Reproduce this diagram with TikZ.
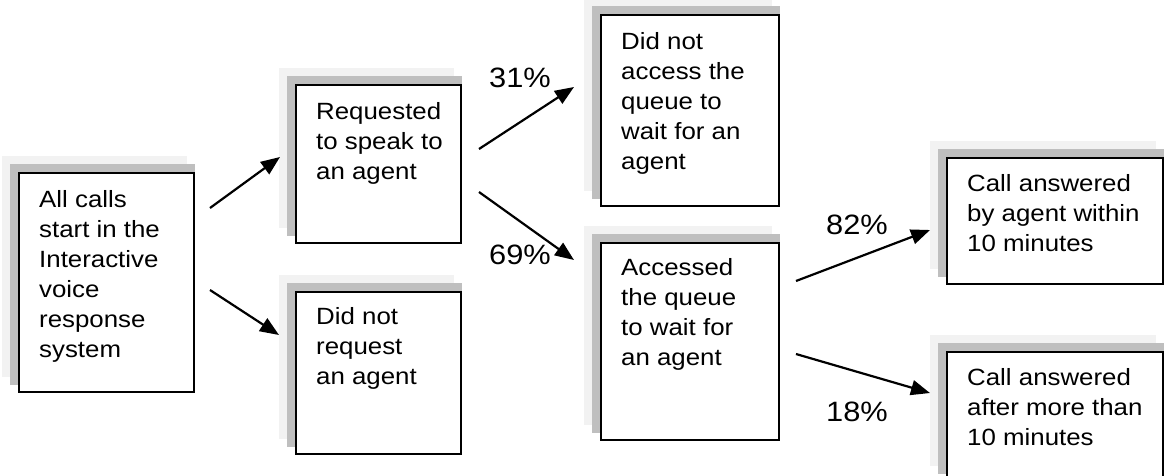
\documentclass[tikz,border=0pt]{standalone}
\usepackage{fontspec}
\setmainfont{Liberation Sans}
\usetikzlibrary{arrows.meta,backgrounds}
\definecolor{shadefar}{RGB}{242,242,242}
\definecolor{shadenear}{RGB}{191,191,191}
\newcommand{\boxtext}[1]{\scalebox{1.1}[1]{\begin{tabular}{@{}l@{}}#1\end{tabular}}}

\begin{document}
\begin{tikzpicture}[x=1pt,y=-1pt,
		stepbox/.style={draw,line width=2pt,fill=white,anchor=north west,inner sep=0pt},
		boxtxt/.style={anchor=north west,inner sep=0pt,font=\fontsize{23.5}{30}\selectfont},
		pct/.style={font=\fontsize{28}{32}\selectfont},
		flow/.style={line width=2.2pt,-{Triangle[length=19pt,width=15pt]}}]
	\useasboundingbox (0,0) rectangle (1165,475);
	
	% Boxes
	\node[stepbox,minimum width=175pt,minimum height=219pt] (ivr) at (18,172) {};
	\node[stepbox,minimum width=165pt,minimum height=158pt] (req) at (295,84) {};
	\node[stepbox,minimum width=165pt,minimum height=162pt] (noreq) at (295,291) {};
	\node[stepbox,minimum width=178pt,minimum height=191pt] (noq) at (600,14) {};
	\node[stepbox,minimum width=178pt,minimum height=197pt] (q) at (600,242) {};
	\node[stepbox,minimum width=216pt,minimum height=126pt] (fast) at (946,157) {};
	\node[stepbox,minimum width=216pt,minimum height=129pt] (slow) at (946,351) {};
	
	% Shadows behind the boxes
	\begin{scope}[on background layer]
		\foreach \nd in {ivr,req,noreq,noq,q,fast,slow}{
			\fill[shadefar] ([shift={(-16,-16)}]\nd.north west) rectangle ([shift={(-8,-16)}]\nd.south east);
			\fill[shadenear] ([shift={(-8,-8)}]\nd.north west) rectangle ([shift={(0,-8)}]\nd.south east);
		}
	\end{scope}
	
	% Box texts
	\node[boxtxt] (ivrtxt) at ([shift={(21,14)}]ivr.north west) {\boxtext{All calls\\start in the\\Interactive\\voice\\response\\system}};
	\node[boxtxt] (reqtxt) at ([shift={(21,14)}]req.north west) {\boxtext{Requested\\to speak to\\an agent}};
	\node[boxtxt] (noreqtxt) at ([shift={(21,12)}]noreq.north west) {\boxtext{Did not\\request\\an agent}};
	\node[boxtxt] (noqtxt) at ([shift={(21,14)}]noq.north west) {\boxtext{Did not\\access the\\queue to\\wait for an\\agent}};
	\node[boxtxt] (qtxt) at ([shift={(21,12)}]q.north west) {\boxtext{Accessed\\the queue\\to wait for\\an agent}};
	\node[boxtxt] (fasttxt) at ([shift={(21,13)}]fast.north west) {\boxtext{Call answered\\by agent within\\10 minutes}};
	\node[boxtxt] (slowtxt) at ([shift={(21,13)}]slow.north west) {\boxtext{Call answered\\after more than\\10 minutes}};
	
	% Arrows
	\draw[flow] ([shift={(15,36)}]ivr.north east) -- ([shift={(-15,73)}]req.north west);
	\draw[flow] ([shift={(15,118)}]ivr.north east) -- ([shift={(-16,44)}]noreq.north west);
	\draw[flow] ([shift={(17,65)}]req.north east) -- ([shift={(-26,73)}]noq.north west);
	\draw[flow] ([shift={(17,108)}]req.north east) -- ([shift={(-26,18)}]q.north west);
	\draw[flow] ([shift={(16,39)}]q.north east) -- ([shift={(-16,73)}]fast.north west);
	\draw[flow] ([shift={(16,112)}]q.north east) -- ([shift={(-16,42)}]slow.north west);
	
	% Percentages
	\node[pct] (p31) at (520,78) {\scalebox{1.1}[1]{31\%}};
	\node[pct] (p69) at (520,255) {\scalebox{1.1}[1]{69\%}};
	\node[pct] (p82) at (857,225) {\scalebox{1.1}[1]{82\%}};
	\node[pct] (p18) at (857,412) {\scalebox{1.1}[1]{18\%}};
\end{tikzpicture}
\end{document}
